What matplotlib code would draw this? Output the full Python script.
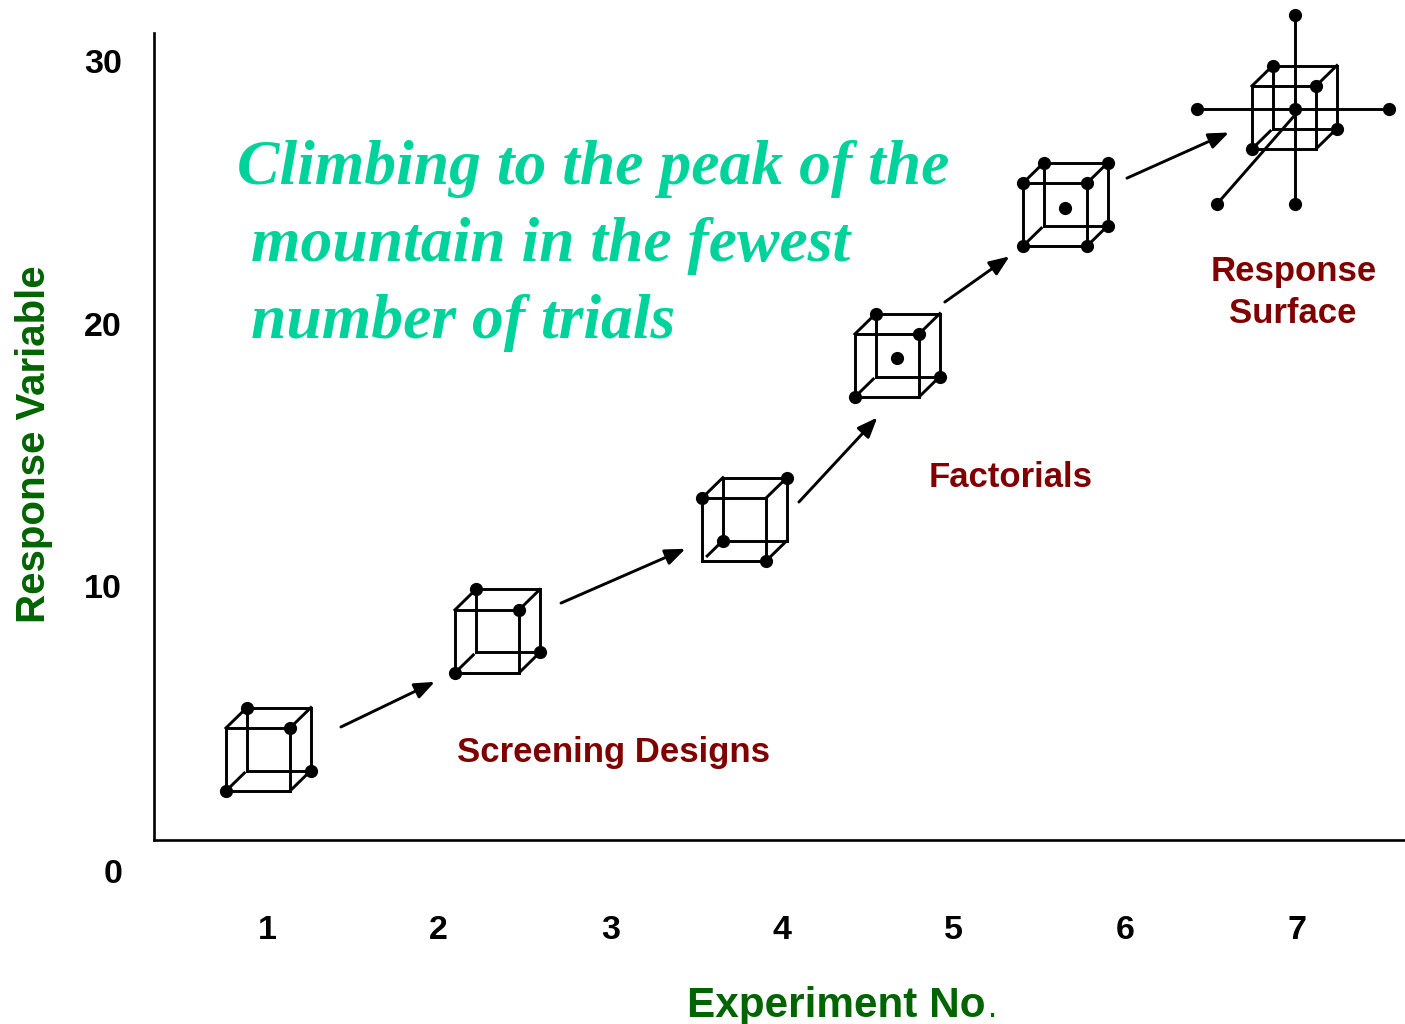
import matplotlib
matplotlib.use('Agg')
import matplotlib.pyplot as plt

plt.rcParams['font.family'] = ['Liberation Sans', 'DejaVu Sans']

# values
x_ticks = [1, 2, 3, 4, 5, 6, 7]
y_ticks = [10, 20, 30]

# front lower left corner of each cube
cube_x = [0.761, 2.095, 3.534, 4.425, 5.404, 6.738]
cube_y = [2.19, 6.69, 10.95, 17.2, 22.95, 26.65]
cube_w = 0.373
cube_h = 2.40
depth_x = 0.122
depth_y = 0.78

cube_dots = [
    ['btl', 'ftr', 'bbr', 'fbl'],
    ['btl', 'ftr', 'bbr', 'fbl'],
    ['ftl', 'btr', 'fbr', 'bbl'],
    ['btl', 'ftr', 'bbr', 'fbl', 'mid'],
    ['btl', 'ftl', 'ftr', 'btr', 'bbr', 'fbr', 'fbl', 'mid'],
    ['btl', 'ftr', 'bbr', 'fbl'],
]

# hidden edge of each cube stops short of the corners on the slide
hidden_start = [0, 0, 0.25, 0, 0, 0]
hidden_end = [0.88, 0.88, 1, 0.88, 0.88, 0.88]

arrow_x0 = [1.431, 2.713, 4.099, 4.949, 6.010]
arrow_y0 = [4.63, 9.35, 13.2, 20.82, 25.54]
arrow_x1 = [1.978, 3.438, 4.556, 5.326, 6.604]
arrow_y1 = [6.35, 11.42, 16.42, 22.56, 27.28]

# star points of the response surface design
star_center = (6.988, 28.17)
star_x = [6.417, 7.536, 6.988, 6.988, 6.534]
star_y = [28.17, 28.17, 31.75, 24.55, 24.55]
star_start_y = [28.17, 28.17, 28.17, 28.17, 27.94]

title_lines = ['Climbing to the peak of the', 'mountain in the fewest', 'number of trials']
title_x = [0.825, 0.907, 0.907]
title_y = [25.31, 22.38, 19.45]

labels = ['Screening Designs', 'Factorials', 'Response', 'Surface']
label_x = [3.021, 5.334, 6.98, 6.975]
label_y = [3.3, 13.77, 21.62, 20.02]

green = '#006400'
maroon = '#800000'
teal = '#00D29B'


def corners(x, y):
    c = {}
    c['fbl'] = (x, y)
    c['fbr'] = (x + cube_w, y)
    c['ftl'] = (x, y + cube_h)
    c['ftr'] = (x + cube_w, y + cube_h)
    for k in ['bl', 'br', 'tl', 'tr']:
        c['b' + k] = (c['f' + k][0] + depth_x, c['f' + k][1] + depth_y)
    c['mid'] = (x + (cube_w + depth_x) / 2, y + (cube_h + depth_y) / 2 - 0.12)
    return c


edges = [('fbl', 'fbr'), ('fbr', 'ftr'), ('ftr', 'ftl'), ('ftl', 'fbl'),
         ('bbl', 'bbr'), ('bbr', 'btr'), ('btr', 'btl'), ('btl', 'bbl'),
         ('fbr', 'bbr'), ('ftl', 'btl'), ('ftr', 'btr')]

fig = plt.figure(figsize=(14.05, 10.24), dpi=100)
ax = fig.add_axes([154 / 1405, (1024 - 840) / 1024, 1251 / 1405, 807 / 1024])
ax.set_xlim(0.342, 7.63)
ax.set_ylim(0.324, 31.07)

for s in ['top', 'right']:
    ax.spines[s].set_visible(False)
for s in ['left', 'bottom']:
    ax.spines[s].set_linewidth(1.9)

ax.set_xticks(x_ticks)
ax.set_yticks(y_ticks)
ax.tick_params(axis='x', length=0, pad=54, labelsize=24.5)
ax.tick_params(axis='y', length=0, pad=23, labelsize=24.5)
for t in ax.get_xticklabels() + ax.get_yticklabels():
    t.set_fontweight('bold')

# the zero sits below the axis corner on the slide
ax.annotate('0', xy=(0.342, 0), xytext=(-23, -19), textcoords='offset points',
            ha='right', va='center', fontsize=24.5, fontweight='bold', annotation_clip=False)

for x, y, dots, h0, h1 in zip(cube_x, cube_y, cube_dots, hidden_start, hidden_end):
    c = corners(x, y)
    for a, b in edges:
        ax.plot([c[a][0], c[b][0]], [c[a][1], c[b][1]], color='black', lw=2.1,
                solid_capstyle='projecting', clip_on=False)
    ax.plot([x + depth_x * h0, x + depth_x * h1], [y + depth_y * h0, y + depth_y * h1],
            color='black', lw=2.1, clip_on=False)
    ax.plot([c[d][0] for d in dots], [c[d][1] for d in dots], 'o', color='black', ms=9.5,
            mec='none', clip_on=False, zorder=4)

for sx, sy, y0 in zip(star_x, star_y, star_start_y):
    ax.plot([star_center[0], sx], [y0, sy], color='black', lw=2.1, clip_on=False)
ax.plot(star_x + [star_center[0]], star_y + [star_center[1]], 'o', color='black', ms=9.5,
        mec='none', clip_on=False, zorder=4)

for x0, y0, x1, y1 in zip(arrow_x0, arrow_y0, arrow_x1, arrow_y1):
    ax.annotate('', xy=(x1, y1), xytext=(x0, y0), annotation_clip=False,
                arrowprops=dict(arrowstyle='-|>,head_length=0.55,head_width=0.22', color='black',
                                lw=2.1, shrinkA=0, shrinkB=0, mutation_scale=22))

for line, x, y in zip(title_lines, title_x, title_y):
    ax.text(x, y, line, color=teal, fontsize=45.8, family='Liberation Serif',
            style='italic', fontweight='bold', va='baseline', ha='left')

for label, x, y in zip(labels, label_x, label_y):
    ax.text(x, y, label, color=maroon, fontsize=25, fontweight='bold', ha='center', va='baseline')

ax.set_ylabel('Response Variable', color=green, fontsize=29, fontweight='bold')
ax.yaxis.set_label_coords((53 - 154) / 1251, (840 - 444) / 807)

ax.set_xlabel('Experiment No', color=green, fontsize=30.4, fontweight='bold', ha='left', va='baseline')
ax.xaxis.set_label_coords((687 - 154) / 1251, (840 - 1017) / 807)
ax.text((988 - 154) / 1251, (840 - 1017) / 807, '.', transform=ax.transAxes, color=green,
        fontsize=24, va='baseline', ha='left', clip_on=False)

fig.savefig('out.png', dpi=100)
